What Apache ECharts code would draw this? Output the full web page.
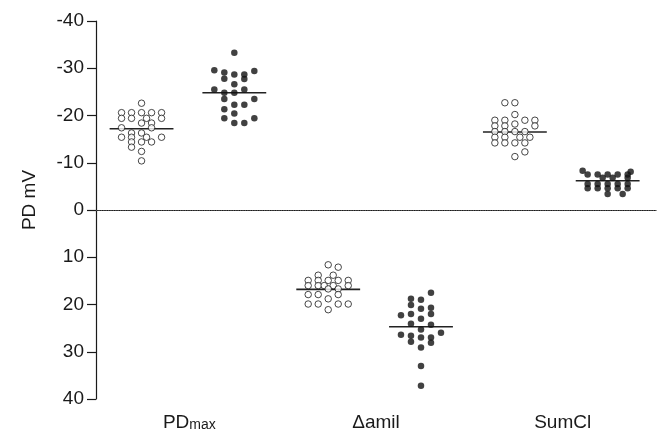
<!DOCTYPE html>
<html><head><meta charset="utf-8">
<script src="https://cdn.jsdelivr.net/npm/echarts@6/dist/echarts.min.js"></script>
<style>html,body{margin:0;padding:0;background:#fff}#c{width:662px;height:433px}</style>
</head><body><div id="c"></div>
<script>
// ---- data ----
const categories = ['PDmax', 'Δamil', 'SumCl'];
const yTicks = [-40, -30, -20, -10, 0, 10, 20, 30, 40];

// open circles (first group of each pair): values and swarm column index
const pdmaxOpenVals = [-22.6,-20.6,-20.6,-20.6,-20.6,-20.6,-19.4,-19.4,-19.4,-19.4,-18.4,-18.4,-17.4,-17.4,-16.3,-16.3,-15.4,-15.4,-15.4,-15.4,-14.4,-14.4,-14.4,-13.3,-12.4,-10.4];
const pdmaxOpenCols = [0,-2,-1,0,1,2,-2,-1,0.5,2,0,1,-2,1,-1,0,-2,-1,0.5,2,-1,0,1,-1,0,0];
const amilOpenVals = [11.6,12.1,13.8,13.8,14.9,14.9,14.9,14.9,14.9,16.0,16.0,16.0,16.0,16.0,16.7,16.7,17.9,17.9,17.9,18.8,19.9,19.9,19.9,19.9,21.1];
const amilOpenCols = [0,1,-1,0.5,-2,-1,0,1,2,-2,-1,-0.4,0.5,2,0,1,-2,-1,1,0,-2,-1,1,2,0];
const sumclOpenVals = [-22.7,-22.7,-20.2,-19.0,-19.0,-19.0,-19.0,-18.2,-17.8,-17.8,-17.8,-16.6,-16.6,-16.6,-16.6,-15.4,-15.4,-15.4,-15.4,-14.2,-14.2,-14.2,-14.2,-12.3,-11.3];
const sumclOpenCols = [-1,0,0,-2,-1,1,2,0,-2,-1,2,-2,-1,0,1,-2,-1,0.5,1.5,-2,-1,0,1,1,0];

// filled dots (second group of each pair)
const pdmaxFilledVals = [-33.3,-29.6,-29.4,-29.1,-28.7,-28.7,-27.8,-27.7,-26.6,-25.5,-25.5,-24.8,-24.8,-23.5,-23.5,-22.3,-22.3,-21.3,-20.4,-19.4,-19.4,-18.4,-18.4];
const pdmaxFilledCols = [0,-2,2,-1,0,1,-1,1,0,-2,1,-1,0,-1,2,0,1,-1,0,-1,2,0,1];
const amilFilledVals = [17.5,18.8,19.0,20.1,20.9,20.7,22.3,22.0,23.0,22.0,24.1,24.3,25.3,26.0,26.4,26.6,27.0,27.0,27.9,28.1,29.1,33.0,37.2];
const amilFilledCols = [1,-1,0,-1,0,1,-2,-1,0,1,-1,1,0,2,-2,-1,0,1,-1,1,0,0,0];
const sumclFilledVals = [-8.3,-8.1,-7.5,-7.5,-7.5,-7.5,-7.5,-6.8,-6.8,-6.8,-5.5,-5.5,-5.5,-5.5,-5.5,-4.6,-4.6,-4.6,-4.6,-4.6,-3.4,-3.4];
const sumclFilledCols = [-2.5,2.3,-2,-1,0,1,2,-0.5,0.5,2,-2,-1,0,1,2,-2,-1,0,1,2,0,1.5];

// group means (horizontal bars)
const openMeans = [-17.2, 16.8, -16.5];
const filledMeans = [-24.8, 24.7, -6.2];

// ---- layout constants (axis units of the hidden value axis, 1 = one category) ----
const COL_W = 0.0536, OPEN_OFF = -0.256, FILLED_OFF = 0.241, MEAN_HALF = 0.171;
const FONT = 'Liberation Sans, Arial, Helvetica, sans-serif';

function pts(cat, off, vals, cols) {
  return vals.map((v, i) => [cat + 0.5 + off + cols[i] * COL_W, v]);
}
const openData = [].concat(
  pts(0, OPEN_OFF, pdmaxOpenVals, pdmaxOpenCols),
  pts(1, OPEN_OFF, amilOpenVals, amilOpenCols),
  pts(2, OPEN_OFF, sumclOpenVals, sumclOpenCols));
const filledData = [].concat(
  pts(0, FILLED_OFF, pdmaxFilledVals, pdmaxFilledCols),
  pts(1, FILLED_OFF, amilFilledVals, amilFilledCols),
  pts(2, FILLED_OFF, sumclFilledVals, sumclFilledCols));

const meanSeries = [];
[[openMeans, OPEN_OFF], [filledMeans, FILLED_OFF]].forEach(([means, off]) => {
  means.forEach((m, c) => {
    const cx = c + 0.5 + off;
    meanSeries.push({
      type: 'line', xAxisIndex: 1, data: [[cx - MEAN_HALF, m], [cx + MEAN_HALF, m]],
      symbol: 'none', lineStyle: { color: '#222', width: 1.6 }, z: 1, silent: true
    });
  });
});

const chart = echarts.init(document.getElementById('c'), null, { renderer: 'canvas' });
chart.setOption({
  animation: false,
  backgroundColor: '#fff',
  grid: { left: 96, right: 6, top: 21, bottom: 34, containLabel: false },
  xAxis: [{
    type: 'category', data: categories, boundaryGap: true,
    axisLine: { lineStyle: { color: '#1a1a1a', width: 1.2 } },
    axisTick: { alignWithLabel: true, length: 7, lineStyle: { color: '#1a1a1a', width: 1.2 } },
    axisLabel: {
      margin: 11, color: '#1a1a1a', fontFamily: FONT, fontSize: 19,
      formatter: v => v === 'PDmax' ? '{a|PD}{b|max}' : '{a|' + v + '}',
      rich: {
        a: { fontFamily: FONT, fontSize: 19, color: '#1a1a1a', lineHeight: 22, verticalAlign: 'bottom' },
        b: { fontFamily: FONT, fontSize: 14, color: '#1a1a1a', lineHeight: 18, verticalAlign: 'bottom' }
      }
    },
    splitLine: { show: false }
  }, {
    type: 'value', min: 0, max: 3, show: false, splitLine: { show: false }
  }],
  yAxis: {
    type: 'value', inverse: true, min: yTicks[0], max: yTicks[yTicks.length - 1], interval: 10,
    name: 'PD mV', nameLocation: 'middle', nameGap: 57,
    nameTextStyle: { fontFamily: FONT, fontSize: 19, color: '#1a1a1a', padding: [0, 0, 0, 20] },
    axisLine: { show: true, lineStyle: { color: '#1a1a1a', width: 1.2 } },
    axisTick: { show: true, length: 9, lineStyle: { color: '#1a1a1a', width: 1.2 } },
    axisLabel: { margin: 12, color: '#1a1a1a', fontFamily: FONT, fontSize: 19 },
    splitLine: { show: false }
  },
  series: [
    {
      type: 'scatter', xAxisIndex: 1, data: openData, symbol: 'circle', symbolSize: 6.5,
      itemStyle: { color: '#ffffff', borderColor: '#1a1a1a', borderWidth: 1 }, z: 3,
      markLine: {
        silent: true, symbol: 'none', label: { show: false },
        lineStyle: { type: 'dotted', color: '#555', width: 1.2, dashOffset: 0 },
        emphasis: { disabled: true },
        data: [{ yAxis: 0, lineStyle: { type: 'dotted', color: '#555', width: 1.2 } }]
      }
    },
    {
      type: 'scatter', xAxisIndex: 1, data: filledData, symbol: 'circle', symbolSize: 6.5,
      itemStyle: { color: '#111111' }, z: 3
    }
  ].concat(meanSeries)
});
</script>
</body></html>
